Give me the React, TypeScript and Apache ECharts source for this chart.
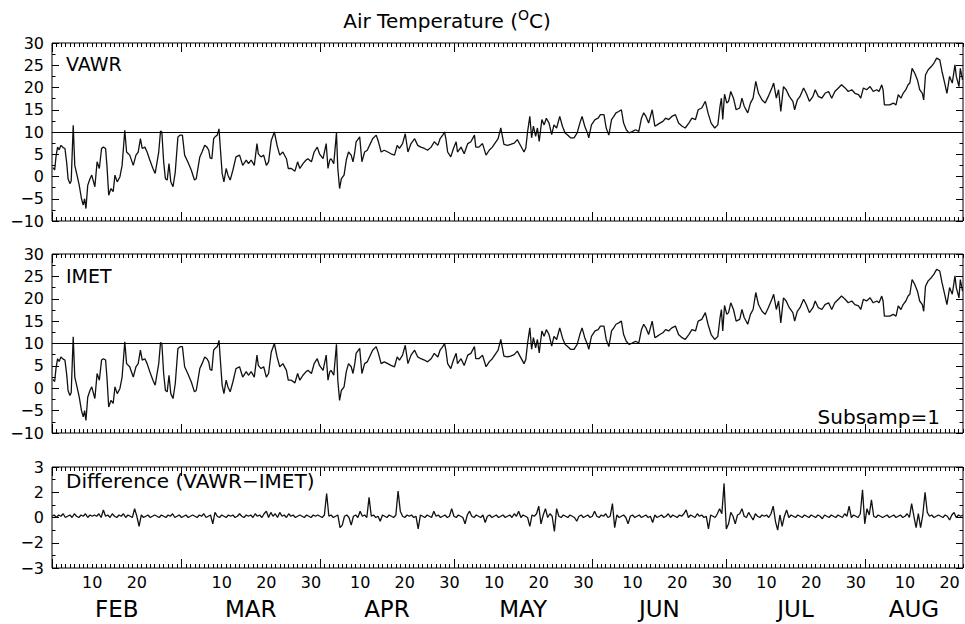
import React, { useEffect, useRef } from "react";
import * as echarts from "echarts";

// ---- time axis (days since 1 Feb, leap year) ----
const X_END_DAY = 204; // 23 Aug
const MONTH_START_DAYS = [0, 29, 60, 90, 121, 151, 182];
const MONTH_NAMES = ["FEB", "MAR", "APR", "MAY", "JUN", "JUL", "AUG"];
const MONTH_LABEL_DAYS = [14.5, 44.5, 75, 105.5, 136, 166.5, 193];
const DAY_LABEL_DAYS = [9, 19, 38, 48, 58, 69, 79, 89, 99, 109, 119, 130, 140, 150, 160, 170, 180, 191, 201];
const DAY_LABEL_TEXT = ["10", "20", "10", "20", "30", "10", "20", "30", "10", "20", "30", "10", "20", "30", "10", "20", "30", "10", "20"];

// ---- y tick labels ----
const DIFF_TICK_VALUES = [-4, -2, 0, 2, 4];
const DIFF_TICK_TEXT = ["−3", "−2", "0", "2", "3"];
const REFERENCE_TEMP = 10;

// ---- air temperature readings [day, degC] (VAWR and IMET are visually identical) ----
const airTempReadings: [number, number][] = [
  [0.2,2.0],[0.6,1.5],[0.9,4.5],[1.25,6.6],[1.6,6.0],[2.0,7.0],[2.5,6.5],[2.9,6.3],[3.3,3.0],[3.6,-0.5],
  [4.0,-1.6],[4.3,-1.0],[4.75,11.5],[5.1,2.5],[5.6,0.3],[6.1,-2.0],[6.6,-5.0],[7.0,-6.4],[7.3,-5.0],[7.6,-7.2],
  [8.0,-2.0],[8.5,-0.5],[8.9,0.3],[9.2,-0.8],[9.6,-2.3],[10.1,3.3],[10.6,1.8],[11.1,6.3],[11.5,6.6],[12.0,6.3],
  [12.3,2.5],[12.7,-4.2],[13.2,-2.7],[13.7,-3.4],[14.1,0.3],[14.6,-1.2],[15.2,-0.1],[15.7,2.5],[16.3,10.4],[16.7,5.5],
  [17.4,4.8],[18.2,2.5],[18.8,4.8],[19.3,5.5],[19.8,8.5],[20.2,6.3],[20.8,6.6],[21.3,5.5],[21.9,3.7],[22.6,1.8],
  [23.1,0.7],[23.9,5.5],[24.3,10.2],[24.6,10.0],[25.0,3.3],[25.4,-0.5],[25.8,-0.8],[26.2,2.9],[26.6,-1.2],[27.1,-2.3],
  [27.6,1.0],[28.2,8.9],[28.7,9.3],[29.2,9.3],[29.7,4.8],[30.4,3.3],[31.2,1.4],[31.9,-0.8],[32.3,-0.5],[33.1,4.4],
  [33.6,5.5],[34.2,7.0],[34.7,6.6],[35.1,5.9],[35.4,4.2],[35.8,4.0],[36.2,8.5],[36.6,9.0],[37.0,9.3],[37.4,10.7],
  [37.7,6.3],[38.1,0.7],[38.5,-1.2],[39.0,1.8],[39.4,0.3],[39.9,-0.8],[40.5,1.4],[41.2,4.4],[42.0,4.8],[42.7,2.5],
  [43.5,3.7],[44.0,2.9],[44.6,3.7],[45.3,2.5],[45.9,7.4],[46.2,5.1],[46.8,4.4],[47.4,4.8],[48.0,2.5],[48.5,3.3],
  [49.1,8.1],[49.8,10.0],[50.4,7.0],[51.0,4.8],[51.7,5.5],[52.5,4.0],[52.9,1.8],[53.6,1.8],[54.4,1.2],[55.0,3.3],
  [55.5,1.8],[56.2,2.9],[56.9,3.7],[57.3,4.0],[58.1,3.3],[58.7,5.5],[59.4,6.6],[59.9,5.1],[60.7,4.0],[61.4,7.4],
  [61.8,1.8],[62.2,3.7],[62.5,4.0],[63.1,2.9],[63.7,9.8],[64.0,1.8],[64.4,-2.7],[64.8,-0.5],[65.4,0.3],[65.9,3.7],
  [66.4,5.5],[67.0,4.8],[67.4,3.3],[67.8,5.5],[68.1,7.8],[68.9,8.9],[69.4,3.3],[70.0,5.5],[70.6,5.9],[71.1,7.0],
  [71.8,8.5],[72.6,9.3],[73.1,7.8],[73.7,5.5],[74.4,5.9],[75.2,5.5],[75.9,5.1],[76.7,4.8],[77.3,7.0],[77.8,6.3],
  [78.5,7.4],[79.1,9.6],[79.7,5.5],[80.4,7.4],[81.2,8.5],[81.9,7.0],[82.6,6.6],[83.4,6.3],[84.1,5.9],[84.9,6.6],
  [85.6,7.8],[86.4,7.0],[86.9,8.5],[87.5,9.3],[87.9,10.0],[88.2,8.5],[88.6,5.5],[89.3,4.4],[89.9,6.3],[90.5,7.8],
  [90.8,5.5],[91.6,6.6],[92.3,5.1],[93.1,7.4],[93.8,7.8],[94.6,9.3],[94.9,6.6],[95.6,6.6],[96.4,7.4],[97.2,4.8],
  [97.9,5.9],[98.6,6.6],[99.4,7.8],[99.9,8.5],[100.5,10.9],[101.2,7.2],[102.0,7.0],[102.7,7.2],[103.5,7.5],[104.2,8.3],
  [105.0,6.8],[105.7,5.5],[106.1,6.4],[106.5,10.1],[107.0,13.5],[107.4,8.7],[107.8,11.3],[108.3,9.0],[108.7,10.9],[109.1,7.9],
  [109.7,12.8],[110.2,11.6],[110.7,13.1],[111.3,12.0],[111.9,9.4],[112.4,11.6],[113.0,10.9],[113.7,13.5],[114.3,11.3],[114.9,9.8],
  [115.4,9.4],[116.1,8.7],[116.9,8.7],[117.6,9.8],[118.2,12.0],[118.7,13.5],[119.3,11.3],[119.9,9.8],[120.2,8.7],[120.8,11.6],
  [121.6,12.8],[122.3,13.1],[122.8,13.9],[123.6,13.9],[124.1,10.9],[124.7,9.3],[125.3,12.8],[125.8,13.5],[126.3,14.3],[126.9,14.6],
  [127.5,15.0],[128.0,12.0],[128.6,10.5],[129.2,9.8],[129.9,10.1],[130.7,10.5],[131.4,10.1],[132.0,13.1],[132.5,14.3],[133.0,13.5],
  [133.6,12.0],[134.4,15.0],[135.0,11.3],[135.5,11.6],[136.1,12.0],[136.8,12.4],[137.4,13.1],[138.1,12.8],[138.8,13.5],[139.6,13.9],
  [140.3,12.0],[141.1,11.3],[141.8,10.9],[142.6,12.0],[143.3,13.1],[144.1,12.8],[144.7,15.0],[145.5,15.4],[146.3,16.9],[146.9,14.3],
  [147.6,12.0],[148.4,10.9],[149.1,11.6],[149.6,15.8],[149.9,17.6],[150.2,12.8],[150.6,18.5],[151.1,16.5],[151.5,16.9],[152.0,19.1],
  [152.6,17.6],[153.2,15.0],[154.0,15.4],[154.5,17.6],[155.0,15.8],[155.8,14.3],[156.4,16.5],[157.0,17.6],[157.6,21.4],[158.2,18.7],
  [159.0,17.2],[159.7,16.5],[160.4,18.0],[161.2,19.9],[161.6,21.0],[162.2,17.6],[162.7,19.5],[163.2,14.6],[163.8,20.2],[164.4,19.5],
  [165.1,18.0],[165.9,16.9],[166.3,15.0],[166.9,17.2],[167.5,18.0],[168.3,19.9],[168.9,18.7],[169.6,16.9],[170.4,18.0],[170.9,19.5],
  [171.6,18.0],[172.4,17.6],[173.1,18.7],[173.9,19.1],[174.6,17.6],[175.3,19.1],[176.1,19.9],[176.8,20.6],[177.6,19.9],[178.3,19.1],
  [179.1,19.5],[179.8,18.7],[180.6,18.4],[181.1,17.6],[181.7,19.9],[182.4,19.5],[183.2,20.2],[183.9,19.1],[184.7,19.5],[185.2,19.1],
  [185.8,20.6],[186.1,19.5],[186.4,16.1],[186.9,16.1],[187.6,16.1],[188.4,16.5],[189.0,16.1],[189.5,18.4],[190.1,17.6],[190.6,18.7],
  [191.2,19.5],[191.7,20.6],[192.1,21.0],[192.6,24.3],[193.2,23.2],[193.8,21.7],[194.3,19.5],[194.9,18.7],[195.2,17.2],[195.6,22.8],
  [196.2,24.0],[196.9,24.7],[197.5,25.5],[198.1,26.6],[198.8,26.2],[199.3,23.6],[199.9,21.0],[200.4,18.7],[201.0,22.5],[201.6,21.0],
  [202.2,25.1],[202.5,22.5],[203.1,20.2],[203.4,24.3],[203.9,21.7]
];

// ---- difference VAWR - IMET, one reading every half day from 1 Feb ----
const DIFF_STEP_DAYS = 0.5;
const diffValues = [
  0.1,0.2,0,0.2,0.1,0.3,0,0.1,0.2,0,0.3,0.1,0,0.2,0.1,0.3,0,0.2,0.1,0.2,
  0.1,0.3,0,0.6,0.1,0.2,0,0.3,0.1,0,0.2,0.1,0.3,0,0.2,0.1,0,0.7,0.1,-0.7,
  0.2,0,0.1,0.2,0,0.1,0.2,0.1,0,0.2,0.1,0,0.2,0.1,0.3,0,0.1,0.2,0,0.1,
  0.2,0,0.1,0.2,0.1,0,0.2,0.1,0.3,0,0.1,0.2,-0.5,0.4,0.1,0,0.2,0.1,0,0.2,
  0.1,0.2,0,0.1,0.3,0.1,0,0.2,0.1,0.2,0,0.3,0.1,0.2,0,0.3,0.5,0,0.4,0.1,
  0.3,0,0.4,0.1,0.2,0,0.3,0.1,0.2,0,0.1,0.2,0.1,0,0.2,0.1,0,0.2,0.1,0.2,
  0.1,0,0.2,1.9,0.1,0.2,0,0.1,0.2,-0.8,-0.6,0.1,0.2,0,-0.6,0.1,0.2,0,0.5,0.1,
  0.2,0,1.6,0.1,0.2,0,0.1,-0.3,0.2,0.1,0,0.2,0.1,0,0.2,2.1,0.5,0.1,0,0.2,
  0.1,0.2,0,0.1,-0.9,0.2,0.1,0,0.2,0.1,0,0.5,0.1,0.2,0,0.1,0.2,0,0.1,0.7,
  0.1,0,0.2,0.1,0,-0.5,0.2,0.5,0.1,0,0.2,0.1,0,0.2,-0.4,0.1,0.2,0,0.1,0.2,
  0,0.1,0.2,0,0.1,0.2,0,0.3,0.1,0.5,0,0.2,0.1,0,-0.7,0.2,0.1,0.3,0.9,-0.5,
  0.2,0.7,0,0.3,0.1,-1.1,0.7,0.1,0,0.2,0.1,0,0.2,0.1,0,-0.3,0.1,0.2,0,0.1,
  0.2,0,0.1,0.5,0.1,0,0.2,0.1,0.3,0,0.1,1.1,-0.8,0.2,0,0.1,0.2,0,-0.5,0.1,
  0.2,0,0.1,0.2,0,0.1,0.2,0,0.1,-0.4,0.2,0,0.1,0.2,0,0.1,0.3,0,0.2,0.1,
  0,0.2,0.1,0.3,0.6,0,0.2,0.1,0,0.3,0.1,0.2,0,0.1,-0.9,0.2,0.1,0,0.3,0.7,
  0.3,2.7,-0.9,-0.5,0.4,0.1,-0.5,0.2,0.3,0.7,0.1,0,0.4,0.1,-0.2,0.3,0.1,0,0.2,0.1,
  0.2,0,0.3,0.9,-0.3,-1.0,0.2,-0.7,0.1,0.6,0,0.2,0.1,0,0.2,0.1,0,0.2,0.1,0,
  0.2,0.1,0,0.2,0.1,-0.1,0.2,0.1,0,0.2,0.1,0,0.2,0.1,0,0.3,0.1,0.9,0,0.2,
  0.1,0,0.3,2.2,-0.5,0.7,0.2,1.4,0.1,0,0.2,0.1,0,0.1,0.2,0,0.1,0.2,0,0.1,
  0.2,0,0.1,0.3,0,1.1,0.1,-0.8,0.3,-0.8,0.2,2.0,0.4,0.1,0.2,0,0.1,0.2,0.1,0,
  0.2,0.1,-0.2,0.2,0.4,0,0.2,0.1,0.2
];

const FONT = "DejaVu Sans";
const INK = "#000";

export default function App() {
  const ref = useRef<HTMLDivElement>(null);

  useEffect(() => {
    if (!ref.current) return;
    const chart = echarts.init(ref.current, null, { renderer: "svg" });

    const grids = [
      { top: 43, height: 178 },
      { top: 254, height: 179 },
      { top: 467, height: 101 },
    ].map((g) => ({
      ...g,
      left: 52,
      right: 2,
      show: true,
      borderColor: INK,
      borderWidth: 1,
      backgroundColor: "transparent",
    }));

    const tickLine = { color: INK, width: 1 };
    const xAxes: any[] = [];
    grids.forEach((_, gi) => {
      const base = {
        type: "value",
        gridIndex: gi,
        min: 0,
        max: X_END_DAY,
        axisLine: { show: false, onZero: false },
        splitLine: { show: false },
        axisLabel: { show: false },
      };
      xAxes.push({ ...base, position: "bottom", interval: 1, axisTick: { show: true, inside: true, length: 4, lineStyle: tickLine } });
      xAxes.push({ ...base, position: "top", interval: 1, axisTick: { show: true, inside: true, length: 4, lineStyle: tickLine } });
      xAxes.push({ ...base, position: "bottom", axisTick: { show: true, inside: true, length: 9, customValues: MONTH_START_DAYS, lineStyle: tickLine } });
      xAxes.push({ ...base, position: "top", axisTick: { show: true, inside: true, length: 9, customValues: MONTH_START_DAYS, lineStyle: tickLine } });
    });
    // day-of-month labels
    xAxes.push({
      type: "value", gridIndex: 2, min: 0, max: X_END_DAY, position: "bottom",
      axisLine: { show: false, onZero: false }, splitLine: { show: false }, axisTick: { show: false },
      axisLabel: {
        show: true, customValues: DAY_LABEL_DAYS, margin: 6, fontSize: 16, fontFamily: FONT, color: INK,
        formatter: (v: number) => DAY_LABEL_TEXT[DAY_LABEL_DAYS.indexOf(v)] ?? "",
      },
    });
    // month names
    xAxes.push({
      type: "value", gridIndex: 2, min: 0, max: X_END_DAY, position: "bottom",
      axisLine: { show: false, onZero: false }, splitLine: { show: false }, axisTick: { show: false },
      axisLabel: {
        show: true, customValues: MONTH_LABEL_DAYS, margin: 29, fontSize: 23, fontFamily: FONT, color: INK,
        formatter: (v: number) => MONTH_NAMES[MONTH_LABEL_DAYS.indexOf(v)] ?? "",
      },
    });

    const fmtMinus = (v: number) => (v < 0 ? "−" + Math.abs(v) : String(v));
    const yAxes: any[] = [];
    [0, 1, 2].forEach((gi) => {
      const isDiff = gi === 2;
      const base = {
        type: "value",
        gridIndex: gi,
        min: isDiff ? -4 : -10,
        max: isDiff ? 4 : 30,
        interval: isDiff ? 2 : 5,
        axisLine: { show: false, onZero: false },
        splitLine: { show: false },
        axisTick: { show: true, inside: true, length: 7, lineStyle: tickLine },
        minorTick: { show: true, splitNumber: 2, length: 3.5, lineStyle: tickLine },
      };
      yAxes.push({
        ...base,
        position: "left",
        axisLabel: {
          show: true, margin: 8, fontSize: 16, fontFamily: FONT, color: INK,
          formatter: isDiff
            ? (v: number) => DIFF_TICK_TEXT[DIFF_TICK_VALUES.indexOf(v)] ?? ""
            : fmtMinus,
        },
      });
      yAxes.push({ ...base, position: "right", axisLabel: { show: false } });
    });

    const refLine = {
      silent: true,
      symbol: ["none", "none"],
      label: { show: false },
      lineStyle: { color: INK, width: 1, type: "solid" },
      data: [{ yAxis: REFERENCE_TEMP }],
    };
    const lineStyle = { color: "#111", width: 1.3 };

    const diffData = diffValues.map((v, i) => [i * DIFF_STEP_DAYS, v]);

    const txt = (x: number, y: number, text: string, size: number, align = "left") => ({
      type: "text",
      x,
      y,
      silent: true,
      style: { text, fontSize: size, fontFamily: FONT, fill: INK, align, verticalAlign: "middle" },
    });

    chart.setOption({
      animation: false,
      backgroundColor: "#fff",
      grid: grids,
      xAxis: xAxes,
      yAxis: yAxes,
      series: [
        { name: "VAWR", type: "line", xAxisIndex: 0, yAxisIndex: 0, data: airTempReadings, symbol: "none", lineStyle, markLine: refLine },
        { name: "IMET", type: "line", xAxisIndex: 4, yAxisIndex: 2, data: airTempReadings, symbol: "none", lineStyle, markLine: refLine },
        { name: "Difference", type: "line", xAxisIndex: 8, yAxisIndex: 4, data: diffData, symbol: "none", lineStyle },
      ],
      graphic: [
        {
          type: "text",
          x: 447,
          y: 21,
          silent: true,
          style: {
            text: "Air Temperature ({sup|O}C)",
            fontSize: 20,
            fontFamily: FONT,
            fill: INK,
            align: "center",
            verticalAlign: "middle",
            lineHeight: 26,
            rich: {
              sup: { fontSize: 14, lineHeight: 14, verticalAlign: "top", fontFamily: FONT, fill: INK },
            },
          },
        },
        txt(66, 64, "VAWR", 19),
        txt(66, 276, "IMET", 19),
        txt(940, 417, "Subsamp=1", 20, "right"),
        txt(66, 481, "Difference (VAWR−IMET)", 20),
      ],
    });

    return () => chart.dispose();
  }, []);

  return (
    <div
      ref={ref}
      style={{ position: "fixed", left: 0, top: 0, width: 965, height: 624, background: "#fff" }}
    />
  );
}
